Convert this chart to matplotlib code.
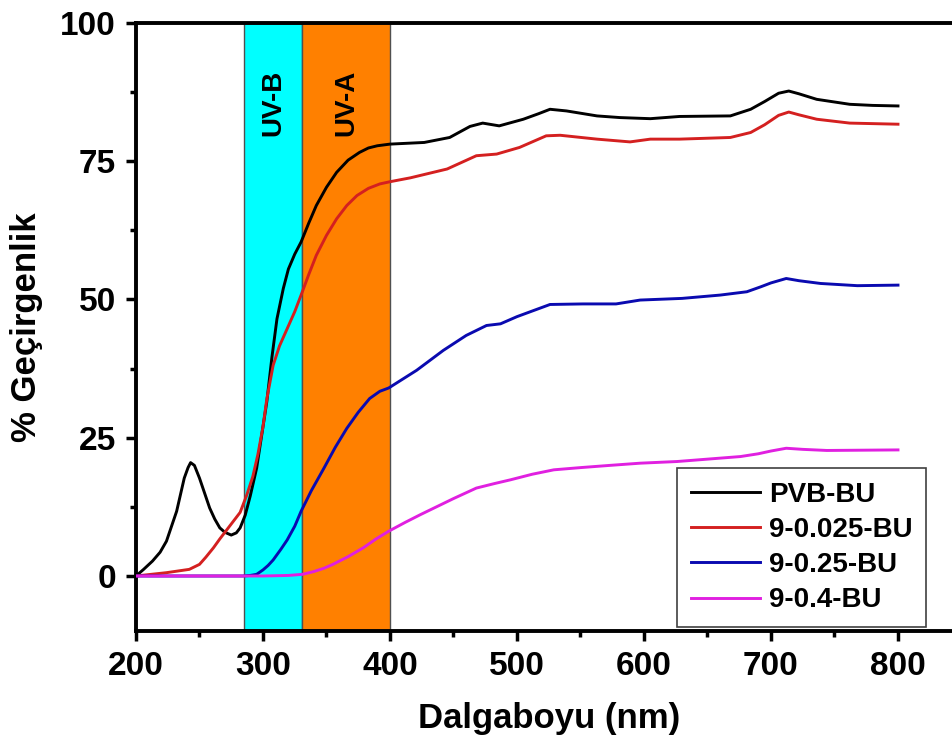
import matplotlib.pyplot as plt
import numpy as np
from matplotlib.ticker import MultipleLocator, AutoMinorLocator

plt.rcParams['font.family'] = ['Liberation Sans', 'DejaVu Sans']
plt.rcParams['font.weight'] = 'bold'

# wavelength (nm) / transmittance (%)
pvb_x = [200, 206, 213, 219, 224, 228, 232, 238, 241, 243, 246, 250, 254, 258, 262, 266, 270,
         275, 279, 282, 286, 290, 295, 299, 303, 307, 311, 316, 320, 325, 330, 336, 342, 350,
         358, 367, 376, 383, 390, 400, 427, 447, 463, 473, 486, 505, 517, 526, 539, 563, 581,
         605, 628, 668, 684, 695, 706, 714, 722, 736, 762, 780, 800]
pvb_y = [0, 1.2, 2.7, 4.3, 6.3, 9.0, 11.7, 17.7, 19.6, 20.5, 20.0, 17.7, 15.0, 12.3, 10.3, 8.7, 7.9,
         7.4, 7.8, 8.7, 11.0, 14.5, 19.5, 25.5, 31.5, 39.5, 46.5, 52.0, 55.5, 58.2, 60.4, 63.8, 67, 70.3,
         73, 75.2, 76.6, 77.4, 77.8, 78.1, 78.4, 79.3, 81.3, 81.9, 81.4, 82.6, 83.6, 84.4, 84.1, 83.2, 82.9,
         82.7, 83.1, 83.2, 84.4, 85.8, 87.3, 87.7, 87.2, 86.2, 85.3, 85.1, 85.0]

r025_x = [200, 224, 242, 250, 255, 261, 266, 272, 277, 282, 287, 292, 296, 300, 303, 308, 313,
          319, 325, 330, 336, 342, 350, 358, 366, 374, 383, 392, 400, 416, 445, 468, 484, 502,
          523, 534, 563, 589, 605, 628, 668, 684, 695, 706, 714, 722, 736, 762, 800]
r025_y = [0, 0.6, 1.2, 2.1, 3.4, 5.1, 6.7, 8.5, 10.0, 11.5, 14.5, 18, 22, 27, 32, 38.1, 41.6,
          44.7, 47.8, 50.8, 54.5, 58, 61.6, 64.6, 67.0, 68.8, 70.1, 70.9, 71.3, 72.0, 73.6, 76, 76.3, 77.5,
          79.6, 79.7, 79, 78.5, 79, 79, 79.3, 80.2, 81.6, 83.3, 83.9, 83.4, 82.6, 81.9, 81.7]

r25_x = [200, 250, 284, 290, 295, 300, 304, 308, 314, 319, 325, 330, 338, 348, 357, 366, 375,
         384, 392, 399, 410, 421, 442, 460, 476, 487, 500, 513, 526, 552, 578, 597, 630, 660,
         681, 692, 700, 712, 722, 739, 768, 800]
r25_y = [0, 0, 0, 0.1, 0.3, 1.1, 1.9, 2.9, 4.8, 6.5, 9.0, 11.7, 15.4, 19.5, 23.3, 26.7, 29.6,
         32.1, 33.4, 34.0, 35.6, 37.2, 40.8, 43.5, 45.3, 45.6, 46.9, 48, 49.1, 49.2, 49.2, 49.9, 50.2, 50.8,
         51.4, 52.3, 53.0, 53.8, 53.4, 52.9, 52.5, 52.6]

r4_x = [200, 250, 300, 320, 331, 340, 348, 355, 367, 379, 389, 399, 412, 424, 450, 468, 482,
        495, 512, 529, 550, 573, 597, 626, 676, 690, 700, 712, 725, 744, 800]
r4_y = [0, 0, 0, 0.1, 0.3, 0.8, 1.4, 2.1, 3.5, 5.1, 6.7, 8.1, 9.7, 11.1, 14.0, 15.9, 16.7,
        17.4, 18.4, 19.2, 19.6, 20.0, 20.4, 20.7, 21.6, 22.1, 22.6, 23.1, 22.9, 22.7, 22.8]

labels = ['PVB-BU', '9-0.025-BU', '9-0.25-BU', '9-0.4-BU']
colors = ['#000000', '#d42020', '#0a0ab0', '#e020e0']

uvb = (285, 331)
uva = (331, 400)

fig = plt.figure(figsize=(9.53, 7.47), dpi=100)
ax = fig.add_axes([0.1427, 0.1549, 0.8662, 0.8143])

ax.axvspan(*uvb, color='#00ffff', ec='#505050', lw=1, zorder=1)
ax.axvspan(*uva, color='#ff8000', ec='#505050', lw=1, zorder=1)
ax.text(sum(uvb) / 2, 85.5, 'UV-B', rotation=90, ha='center', va='center',
        fontsize=20, fontweight='bold', zorder=2)
ax.text(sum(uva) / 2, 85.5, 'UV-A', rotation=90, ha='center', va='center',
        fontsize=20, fontweight='bold', zorder=2)

for x, y, lab, c in zip([pvb_x, r025_x, r25_x, r4_x], [pvb_y, r025_y, r25_y, r4_y],
                        labels, colors):
    ax.plot(x, y, color=c, lw=2.1, label=lab, zorder=3, solid_joinstyle='round')

ax.set_xlim(200, 850)
ax.set_ylim(-10, 100)
ax.xaxis.set_major_locator(MultipleLocator(100))
ax.yaxis.set_major_locator(MultipleLocator(25))
ax.xaxis.set_minor_locator(AutoMinorLocator(2))
ax.yaxis.set_minor_locator(AutoMinorLocator(2))
ax.spines['right'].set_visible(False)
for s in ['left', 'bottom', 'top']:
    ax.spines[s].set_linewidth(2.8)
ax.tick_params(which='major', direction='out', length=7.5, width=2.5, labelsize=24, pad=7)
ax.tick_params(which='minor', direction='out', length=4, width=2.5)
ax.tick_params(top=False, right=False)
for t in ax.get_xticklabels() + ax.get_yticklabels():
    t.set_fontweight('bold')

ax.set_xlabel('Dalgaboyu (nm)', fontsize=25, fontweight='bold', labelpad=14)
ax.set_ylabel('% Geçirgenlik', fontsize=25, fontweight='bold', labelpad=12)

leg = ax.legend(loc='upper left', bbox_to_anchor=(0.7104, 0.3735),
                bbox_transform=fig.transFigure, borderaxespad=0,
                prop={'size': 20, 'weight': 'bold'}, handlelength=2.5,
                handletextpad=0.3, labelspacing=0.33, borderpad=0.5,
                fancybox=False, edgecolor='#404040', framealpha=1)
leg.get_frame().set_linewidth(1.2)
for h in leg.get_lines():
    h.set_linewidth(2.1)

fig.savefig('out.png', dpi=100)
